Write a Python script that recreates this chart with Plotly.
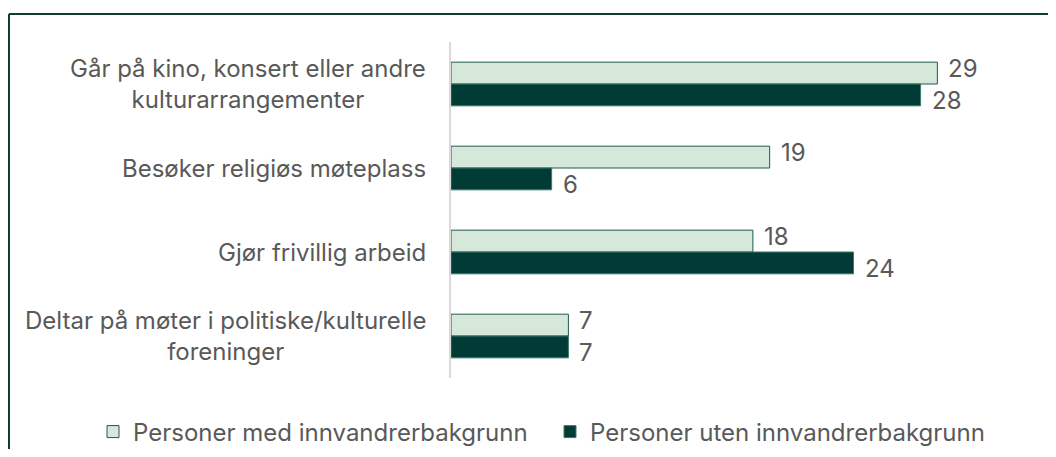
import plotly.graph_objects as go

categories = [
    "Går på kino, konsert eller andre<br>kulturarrangementer",
    "Besøker religiøs møteplass",
    "Gjør frivillig arbeid",
    "Deltar på møter i politiske/kulturelle<br>foreninger",
]
med_innvandrer = [29, 19, 18, 7]
uten_innvandrer = [28, 6, 24, 7]

TEXT = "#595959"
FONT = "Inter"
SIZE = 24

# plot area in page pixels (page has an 8px body margin)
L, T, PW, PH = 443, 34, 587, 336

fig = go.Figure()
fig.add_trace(go.Bar(
    y=categories, x=med_innvandrer, orientation="h",
    name="Personer med innvandrerbakgrunn",
    marker=dict(color="#D5E8D9", line=dict(color="#1F5A4C", width=1)),
))
fig.add_trace(go.Bar(
    y=categories, x=uten_innvandrer, orientation="h",
    name="Personer uten innvandrerbakgrunn",
    marker=dict(color="#003B36", line=dict(color="#3C7A6C", width=1)),
))

# value labels, nudged apart vertically like the source
for vals, shift in [(med_innvandrer, 16), (uten_innvandrer, -16)]:
    for c, v in zip(categories, vals):
        fig.add_annotation(
            x=v, y=c, xref="x", yref="y", xshift=9, yshift=shift,
            text=str(v), showarrow=False, xanchor="left",
            font=dict(size=SIZE, color=TEXT, family=FONT),
        )

# category labels as annotations so wrapped lines are centred
for c in categories:
    fig.add_annotation(
        x=0, y=c, xref="paper", yref="y", xshift=-23,
        text=c, showarrow=False, xanchor="right", align="center",
        font=dict(size=SIZE, color=TEXT, family=FONT),
    )

# frame (top and left edges only are visible)
fx = (1 - L) / PW
fy = (T + PH - 6) / PH
fig.add_shape(type="line", xref="paper", yref="paper", x0=fx, x1=1.2, y0=fy, y1=fy,
              line=dict(color="#0F3D35", width=2))
fig.add_shape(type="line", xref="paper", yref="paper", x0=fx, x1=fx, y0=fy, y1=-0.5,
              line=dict(color="#0F3D35", width=2))

fig.update_layout(
    width=1040, height=441,
    margin=dict(l=L, r=1040 - L - PW, t=T, b=441 - T - PH, autoexpand=False),
    plot_bgcolor="white", paper_bgcolor="white",
    barmode="group", bargap=0.48, bargroupgap=0,
    font=dict(family=FONT, size=SIZE, color=TEXT),
    showlegend=True,
    legend=dict(orientation="h", x=(85 - L) / PW, xanchor="left",
                y=(T + PH - 424) / PH, yanchor="middle",
                font=dict(size=SIZE, color=TEXT, family=FONT),
                entrywidth=412, entrywidthmode="pixels",
                traceorder="normal"),
)
fig.update_xaxes(range=[0, 35], showgrid=False, zeroline=False, showticklabels=False, showline=False)
fig.update_yaxes(autorange="reversed", showticklabels=False, showgrid=False,
                 showline=True, linecolor="#D9D9D9", linewidth=2, ticks="")

fig.write_html("out.html")
